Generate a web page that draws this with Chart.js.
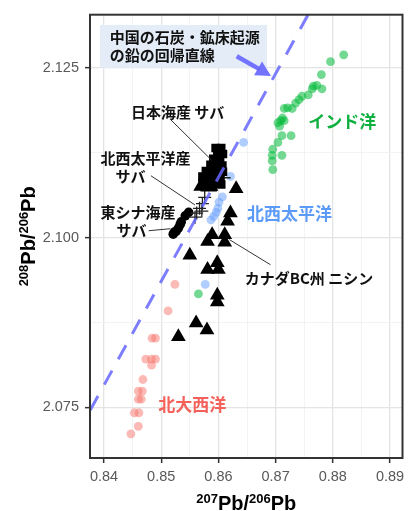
<!DOCTYPE html>
<html>
<head>
<meta charset="utf-8">
<script src="https://cdn.jsdelivr.net/npm/chart.js@4.4.1/dist/chart.umd.min.js"></script>
<style>
  html, body { margin: 0; padding: 0; background: #fff; }
  canvas { display: block; }
</style>
</head>
<body>
<canvas id="c" width="411" height="511"></canvas>
<script>
// Lead isotope ratios: x = 207Pb/206Pb, y = 208Pb/206Pb

// Seawater / sediment reference groups
const indianOcean = [
  [0.8819, 2.1269], [0.8796, 2.1259], [0.8780, 2.1240], [0.8766, 2.1223], [0.8772, 2.1224],
  [0.8781, 2.1219], [0.8764, 2.1219], [0.8757, 2.1210], [0.8746, 2.1208], [0.8741, 2.1203],
  [0.8735, 2.1198], [0.8729, 2.1190], [0.8721, 2.1191], [0.8715, 2.1190], [0.8712, 2.1176],
  [0.8709, 2.1172], [0.8715, 2.1172], [0.8704, 2.1169], [0.8707, 2.1164], [0.8727, 2.1150],
  [0.8711, 2.1150], [0.8704, 2.1140], [0.8695, 2.1130], [0.8694, 2.1121], [0.8711, 2.1121],
  [0.8694, 2.1113], [0.8695, 2.1100], [0.8565, 2.0917]
];
const northwestPacific = [
  [0.8644, 2.1140], [0.8621, 2.1090], [0.8607, 2.1060], [0.8601, 2.1052], [0.8599, 2.1043],
  [0.8596, 2.1037], [0.8592, 2.1031], [0.8587, 2.1026], [0.8577, 2.0931]
];
const northAtlantic = [
  [0.8524, 2.0931], [0.8512, 2.0892], [0.8484, 2.0852], [0.8490, 2.0852], [0.8473, 2.0821],
  [0.8483, 2.0821], [0.8490, 2.0821], [0.8483, 2.0812], [0.8468, 2.0791], [0.8460, 2.0774],
  [0.8467, 2.0774], [0.8460, 2.0762], [0.8465, 2.0762], [0.8453, 2.0742], [0.8461, 2.0742],
  [0.8460, 2.0722], [0.8447, 2.0711]
];

// Fish samples
const herringCanadaBC = [
  [0.8569, 2.1075], [0.8587, 2.1075], [0.8631, 2.1072], [0.8621, 2.1036], [0.8616, 2.1024],
  [0.8589, 2.1004], [0.8581, 2.0994], [0.8611, 2.1004], [0.8611, 2.0993], [0.8550, 2.0974],
  [0.8581, 2.0953], [0.8598, 2.0963], [0.8600, 2.0953], [0.8598, 2.0915], [0.8598, 2.0905],
  [0.8561, 2.0874], [0.8580, 2.0864], [0.8530, 2.0854]
];
const mackerelJapanSea = [
  [0.8595, 2.1132], [0.8605, 2.1132], [0.8598, 2.1123], [0.8608, 2.1123], [0.8591, 2.1116],
  [0.8603, 2.1114], [0.8586, 2.1107], [0.8596, 2.1106], [0.8607, 2.1106], [0.8578, 2.1098],
  [0.8588, 2.1097], [0.8598, 2.1097], [0.8608, 2.1097], [0.8572, 2.1090], [0.8583, 2.1088],
  [0.8593, 2.1088], [0.8603, 2.1087], [0.8572, 2.1081], [0.8584, 2.1080], [0.8595, 2.1080],
  [0.8605, 2.1078], [0.8576, 2.1074], [0.8590, 2.1074]
];
const mackerelNWPacific = [
  [0.8576, 2.1059], [0.8572, 2.1050], [0.8567, 2.1043], [0.8562, 2.1036], [0.8559, 2.1030],
  [0.8571, 2.1039], [0.8610, 2.1088]
];
const mackerelEastChinaSea = [
  [0.8542, 2.1032], [0.8548, 2.1037], [0.8533, 2.1019], [0.8530, 2.1014], [0.8526, 2.1009],
  [0.8521, 2.1005], [0.8523, 2.1008], [0.8535, 2.1023]
];

// Regression line for lead from Chinese coal and ore deposits (end points)
const coalOreRegression = [[0.8376, 2.0746], [0.8760, 2.1333]];

// Axis ticks
const xMajorTicks = [0.84, 0.85, 0.86, 0.87, 0.88, 0.89];
const xMinorTicks = [0.845, 0.855, 0.865, 0.875, 0.885];
const yMajorTicks = [2.075, 2.100, 2.125];
const yMinorTicks = [2.0875, 2.1125];

const toXY = arr => arr.map(([x, y]) => ({ x, y }));
const isIn = (list, v) => list.some(m => Math.abs(m - v) < 1e-9);

const LATIN = '"Liberation Sans", Arial, sans-serif';
const CJK = '"Noto Sans CJK JP", "Noto Sans", sans-serif';

// Text, arrow and leader segments placed in data coordinates
const notes = {
  box: { x0: 0.8393, x1: 0.8685, yTop: 2.1313, yBottom: 2.1250, fill: '#E3ECF7' },
  boxLines: [
    { text: '中国の石炭・鉱床起源', x: 0.8410, y: 2.1295 },
    { text: 'の鉛の回帰直線', x: 0.8410, y: 2.1269 }
  ],
  arrow: { from: [0.8632, 2.1267], to: [0.8692, 2.1238], color: 'rgba(104,104,255,0.92)' },
  labels: [
    { text: 'インド洋', x: 0.8757, y: 2.1171, color: '#10B040', size: 17 },
    { text: '北西太平洋', x: 0.8650, y: 2.1036, color: '#5C9AF8', size: 17 },
    { text: '北大西洋', x: 0.8495, y: 2.0754, color: '#F4605A', size: 17 },
    { text: '日本海産 サバ', x: 0.8447, y: 2.1184, color: '#111', size: 15 },
    { text: '北西太平洋産', x: 0.8394, y: 2.1116, color: '#111', size: 15 },
    { text: 'サバ', x: 0.8420, y: 2.1090, color: '#111', size: 15 },
    { text: '東シナ海産', x: 0.8394, y: 2.1037, color: '#111', size: 15 },
    { text: 'サバ', x: 0.8422, y: 2.1011, color: '#111', size: 15 },
    { text: 'カナダBC州 ニシン', x: 0.8646, y: 2.0940, color: '#111', size: 15 }
  ],
  leaders: [
    [0.8516, 2.1174, 0.8588, 2.1114],
    [0.8482, 2.1091, 0.8559, 2.1048],
    [0.8478, 2.1010, 0.8516, 2.1013],
    [0.8691, 2.0960, 0.8619, 2.0997]
  ]
};

function drawRich(ctx, parts, cx, baseY) {
  let total = 0;
  parts.forEach(p => {
    ctx.font = `bold ${p.size}px ${LATIN}`;
    p.w = ctx.measureText(p.t).width;
    total += p.w;
  });
  let x = cx - total / 2;
  ctx.textAlign = 'left';
  ctx.textBaseline = 'alphabetic';
  parts.forEach(p => {
    ctx.font = `bold ${p.size}px ${LATIN}`;
    ctx.fillText(p.t, x, baseY - p.rise);
    x += p.w;
  });
}

const ratioTitle = (top) => [
  { t: top, size: 13, rise: 7 },
  { t: 'Pb/', size: 20, rise: 0 },
  { t: '206', size: 13, rise: 7 },
  { t: 'Pb', size: 20, rise: 0 }
];

const notesPlugin = {
  id: 'notes',
  afterDatasetsDraw(chart) {
    const { ctx, chartArea: a, scales: { x, y } } = chart;
    const X = v => x.getPixelForValue(v);
    const Y = v => y.getPixelForValue(v);
    ctx.save();

    // leader segments
    ctx.strokeStyle = '#333';
    ctx.lineWidth = 1;
    notes.leaders.forEach(([x1, y1, x2, y2]) => {
      ctx.beginPath();
      ctx.moveTo(X(x1), Y(y1));
      ctx.lineTo(X(x2), Y(y2));
      ctx.stroke();
    });

    // label box
    const b = notes.box;
    ctx.fillStyle = b.fill;
    ctx.fillRect(X(b.x0), Y(b.yTop), X(b.x1) - X(b.x0), Y(b.yBottom) - Y(b.yTop));
    ctx.fillStyle = '#111';
    ctx.font = `bold 15px ${CJK}`;
    ctx.textAlign = 'left';
    ctx.textBaseline = 'middle';
    notes.boxLines.forEach(l => ctx.fillText(l.text, X(l.x), Y(l.y)));

    // arrow toward regression line
    const ar = notes.arrow;
    const sx = X(ar.from[0]), sy = Y(ar.from[1]);
    const tx = X(ar.to[0]), ty = Y(ar.to[1]);
    const ang = Math.atan2(ty - sy, tx - sx);
    const headLen = 15, headHalf = 8;
    const bx = tx - Math.cos(ang) * headLen, by = ty - Math.sin(ang) * headLen;
    ctx.strokeStyle = ar.color;
    ctx.fillStyle = ar.color;
    ctx.lineWidth = 4.5;
    ctx.lineCap = 'butt';
    ctx.beginPath();
    ctx.moveTo(sx, sy);
    ctx.lineTo(bx + Math.cos(ang) * 2, by + Math.sin(ang) * 2);
    ctx.stroke();
    ctx.beginPath();
    ctx.moveTo(tx, ty);
    ctx.lineTo(bx - Math.sin(ang) * headHalf, by + Math.cos(ang) * headHalf);
    ctx.lineTo(bx + Math.sin(ang) * headHalf, by - Math.cos(ang) * headHalf);
    ctx.closePath();
    ctx.fill();

    // group labels
    notes.labels.forEach(l => {
      ctx.fillStyle = l.color;
      ctx.font = `bold ${l.size}px ${CJK}`;
      ctx.textAlign = 'left';
      ctx.textBaseline = 'middle';
      ctx.fillText(l.text, X(l.x), Y(l.y));
    });

    // panel border
    ctx.strokeStyle = '#333';
    ctx.lineWidth = 2;
    ctx.strokeRect(a.left, a.top, a.right - a.left, a.bottom - a.top);

    // axis titles
    ctx.fillStyle = '#000';
    drawRich(ctx, ratioTitle('207'), (a.left + a.right) / 2, 510);
    ctx.save();
    ctx.translate(35, (a.top + a.bottom) / 2);
    ctx.rotate(-Math.PI / 2);
    drawRich(ctx, ratioTitle('208'), 0, 0);
    ctx.restore();

    ctx.restore();
  }
};

function gridStyle(major, minor) {
  return {
    color: c => isIn(major, c.tick.value) ? '#E4E4E4' : '#F0F0F0',
    lineWidth: c => isIn(major, c.tick.value) ? 1.3 : 0.8,
    tickColor: c => isIn(major, c.tick.value) ? '#333' : 'rgba(0,0,0,0)',
    tickWidth: 1.5,
    tickLength: 5,
    drawTicks: true
  };
}

const pointSet = (label, data, style) => Object.assign({
  label, data: toXY(data), borderWidth: 0, pointHoverRadius: 0
}, style);

new Chart(document.getElementById('c'), {
  type: 'scatter',
  data: {
    datasets: [
      pointSet('中国の石炭・鉱床起源の鉛の回帰直線', coalOreRegression, {
        showLine: true, pointRadius: 0, borderColor: 'rgba(102,102,255,0.85)',
        borderWidth: 3, borderDash: [16, 13], order: 0
      }),
      pointSet('日本海産 サバ', mackerelJapanSea, {
        pointStyle: 'rect', pointRadius: 6, backgroundColor: '#000', order: 1
      }),
      pointSet('北西太平洋産 サバ', mackerelNWPacific, {
        pointStyle: 'cross', pointRadius: 6.5, borderColor: '#222', borderWidth: 1.3,
        backgroundColor: '#222', order: 2
      }),
      pointSet('東シナ海産 サバ', mackerelEastChinaSea, {
        pointStyle: 'circle', pointRadius: 4.8, backgroundColor: '#000', order: 3
      }),
      pointSet('カナダBC州 ニシン', herringCanadaBC, {
        pointStyle: 'triangle', pointRadius: 8.5, backgroundColor: '#000', order: 4
      }),
      pointSet('インド洋', indianOcean, {
        pointStyle: 'circle', pointRadius: 4.4, backgroundColor: 'rgba(0,186,56,0.55)', order: 5
      }),
      pointSet('北西太平洋', northwestPacific, {
        pointStyle: 'circle', pointRadius: 4.4, backgroundColor: 'rgba(97,156,255,0.5)', order: 6
      }),
      pointSet('北大西洋', northAtlantic, {
        pointStyle: 'circle', pointRadius: 4.4, backgroundColor: 'rgba(248,118,109,0.5)', order: 7
      })
    ]
  },
  options: {
    responsive: false,
    animation: false,
    devicePixelRatio: 1,
    layout: { padding: { top: 9, right: 2, left: 0, bottom: 0 } },
    plugins: { legend: { display: false }, tooltip: { enabled: false } },
    events: [],
    scales: {
      x: {
        type: 'linear',
        min: 0.83755,
        max: 0.89218,
        afterBuildTicks: s => { s.ticks = [...xMajorTicks, ...xMinorTicks].sort((p, q) => p - q).map(v => ({ value: v })); },
        afterFit: s => { s.height = 53; },
        grid: gridStyle(xMajorTicks, xMinorTicks),
        border: { display: false },
        ticks: {
          autoSkip: false, maxRotation: 0, padding: 5,
          color: '#595959',
          font: { family: LATIN, size: 14.5 },
          callback: v => isIn(xMajorTicks, v) ? v.toFixed(2) : ''
        }
      },
      y: {
        type: 'linear',
        min: 2.06754,
        max: 2.13281,
        afterBuildTicks: s => { s.ticks = [...yMajorTicks, ...yMinorTicks].sort((p, q) => p - q).map(v => ({ value: v })); },
        afterFit: s => { s.width = 90; },
        grid: gridStyle(yMajorTicks, yMinorTicks),
        border: { display: false },
        ticks: {
          autoSkip: false, padding: 6,
          color: '#595959',
          font: { family: LATIN, size: 14.5 },
          callback: v => isIn(yMajorTicks, v) ? v.toFixed(3) : ''
        }
      }
    }
  },
  plugins: [notesPlugin]
});
</script>
</body>
</html>
